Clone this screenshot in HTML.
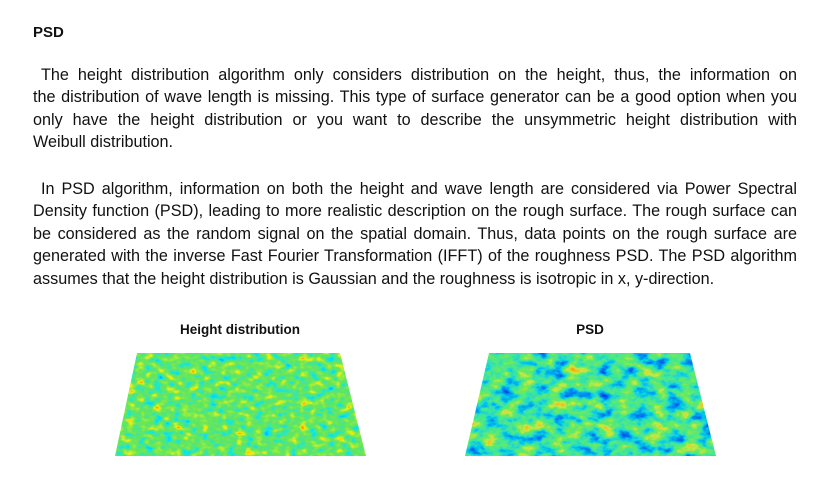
<!DOCTYPE html>
<html><head><meta charset="utf-8"><style>
body{margin:0;width:827px;height:486px;background:#fff;overflow:hidden;font-family:"Liberation Sans",sans-serif;color:#111}
h1{position:absolute;left:33px;top:24px;margin:0;font-size:15px;font-weight:bold}
.l{position:absolute;left:33px;width:764px;margin:0;font-size:16.2px;line-height:18px;text-align:justify;text-align-last:justify;white-space:nowrap;letter-spacing:0}
.l.e{text-align-last:left}
.i{box-sizing:border-box;padding-left:8px}
.cap{position:absolute;top:322px;font-size:13.5px;font-weight:bold;transform:translateX(-50%)}
svg{position:absolute;left:0;top:0}
</style></head><body>
<h1>PSD</h1>
<div>
<div class="l i" style="top:66px">The height distribution algorithm only considers distribution on the height, thus, the information on</div>
<div class="l" style="top:88px">the distribution of wave length is missing. This type of surface generator can be a good option when you</div>
<div class="l" style="top:111px">only have the height distribution or you want to describe the unsymmetric height distribution with</div>
<div class="l e" style="top:133px">Weibull distribution.</div>
</div>
<div>
<div class="l i" style="top:180px">In PSD algorithm, information on both the height and wave length are considered via Power Spectral</div>
<div class="l" style="top:202px">Density function (PSD), leading to more realistic description on the rough surface. The rough surface can</div>
<div class="l" style="top:225px">be considered as the random signal on the spatial domain. Thus, data points on the rough surface are</div>
<div class="l" style="top:247px">generated with the inverse Fast Fourier Transformation (IFFT) of the roughness PSD. The PSD algorithm</div>
<div class="l e" style="top:270px">assumes that the height distribution is Gaussian and the roughness is isotropic in x, y-direction.</div>
</div>
<div class="cap" style="left:240px">Height distribution</div>
<div class="cap" style="left:590px">PSD</div>
<svg width="827" height="486">
<defs>
<filter id="f1" x="0" y="0" width="1" height="1">
<feTurbulence type="fractalNoise" baseFrequency="0.11 0.16" numOctaves="2" seed="3"/>
<feColorMatrix values="1 0 0 0 0 1 0 0 0 0 1 0 0 0 0 0 0 0 0 1"/>
<feComponentTransfer>
<feFuncR type="table" tableValues="0 0 0 0.02 0.1 0.15 0.3 0.9 1 1"/>
<feFuncG type="table" tableValues="0 0.3 0.75 0.8 0.78 0.8 0.85 0.85 0.3 0"/>
<feFuncB type="table" tableValues="0.7 1 0.95 0.5 0.15 0.1 0.05 0 0 0"/>
<feFuncA type="table" tableValues="1 1"/>
</feComponentTransfer>
</filter>
<filter id="f2" x="0" y="0" width="1" height="1">
<feTurbulence type="fractalNoise" baseFrequency="0.06 0.09" numOctaves="4" seed="7"/>
<feColorMatrix values="1 0 0 0 0 1 0 0 0 0 1 0 0 0 0 0 0 0 0 1"/>
<feComponentTransfer>
<feFuncR type="table" tableValues="0 0 0 0 0.05 0.15 0.6 0.95 1"/>
<feFuncG type="table" tableValues="0 0.05 0.2 0.6 0.8 0.82 0.8 0.4 0"/>
<feFuncB type="table" tableValues="0.6 0.8 0.85 0.8 0.3 0.1 0.05 0 0"/>
<feFuncA type="table" tableValues="1 1"/>
</feComponentTransfer>
</filter>
<clipPath id="c1"><polygon points="137,353 340,353 366,456 115,456"/></clipPath>
<clipPath id="c2"><polygon points="489,353 690,353 716,456 465,456"/></clipPath>
</defs>
<g clip-path="url(#c1)"><rect x="115" y="353" width="251" height="103" fill="#4c4" filter="url(#f1)"/></g>
<g clip-path="url(#c2)"><rect x="465" y="353" width="251" height="103" fill="#38c" filter="url(#f2)"/></g>
</svg>
</body></html>
